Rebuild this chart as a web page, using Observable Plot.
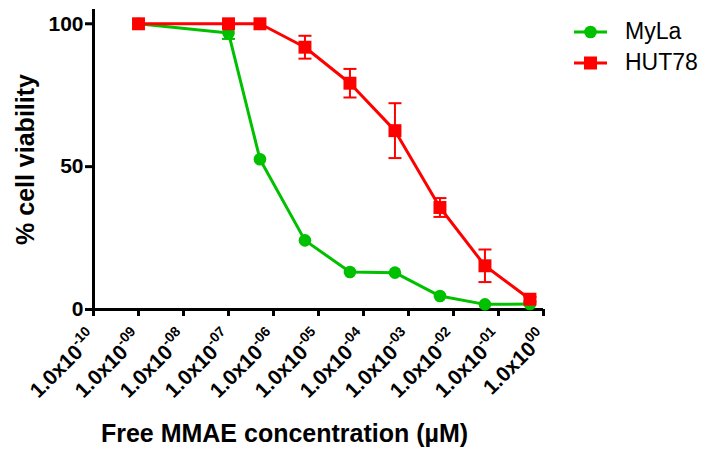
<!DOCTYPE html>
<html><head><meta charset="utf-8">
<script src="https://cdn.jsdelivr.net/npm/d3@7"></script>
<script src="https://cdn.jsdelivr.net/npm/@observablehq/plot@0.6"></script>
<style>
body{margin:0;background:#fff;}
#wrap{position:relative;width:703px;height:452px;}
#legend{position:absolute;left:573px;top:16px;font-family:"Liberation Sans",Arial,sans-serif;font-size:23px;color:#000;}
.item{display:flex;align-items:center;height:31px;}
.item svg{margin-right:17px;}
</style></head><body><div id="wrap"></div>
<script>
// ---- data ----
const concentrations = [1e-9, 1e-7, 5e-7, 5e-6, 5e-5, 5e-4, 5e-3, 5e-2, 5e-1];
const mylaViability  = [100, 96.8, 52.6, 24.2, 13.1, 12.9, 4.7, 1.8, 1.9];
const mylaSem        = [0, 2.1, 0, 0, 0, 0, 0, 0, 0];
const hut78Viability = [100, 100, 100, 91.8, 79.2, 62.6, 35.7, 15.3, 3.6];
const hut78Sem       = [0, 0, 0, 4.0, 5.0, 9.6, 3.3, 5.7, 0.8];
const seriesNames  = ["MyLa", "HUT78"];
const seriesColors = ["#00c000", "#ff0000"];
const xTicks = [1e-10, 1e-9, 1e-8, 1e-7, 1e-6, 1e-5, 1e-4, 1e-3, 1e-2, 1e-1, 1e0];
const xTickBase = "1.0x10";
const xTickExponents = ["-10", "-09", "-08", "-07", "-06", "-05", "-04", "-03", "-02", "-01", "00"];
const yTicks = [0, 50, 100];
const xDomain = [1e-10, 1];
const yDomain = [0, 105];
const xTitle = "Free MMAE concentration (µM)";
const yTitle = "% cell viability";

// ---- build rows ----
const rows = [];
concentrations.forEach((c, i) => {
  rows.push({series: "MyLa", conc: c, v: mylaViability[i], sem: mylaSem[i]});
});
concentrations.forEach((c, i) => {
  rows.push({series: "HUT78", conc: c, v: hut78Viability[i], sem: hut78Sem[i]});
});
const myla = rows.filter(d => d.series === "MyLa");
const hut = rows.filter(d => d.series === "HUT78");
const errs = rows.filter(d => d.sem > 0);

const capSymbol = {
  draw(context, size) {
    const r = Math.sqrt(size / Math.PI);
    context.moveTo(-r, 0);
    context.lineTo(r, 0);
  }
};

const font = '"Liberation Sans", Arial, sans-serif';

const chart = Plot.plot({
  width: 703,
  height: 452,
  marginLeft: 93,
  marginRight: 160,
  marginTop: 9,
  marginBottom: 143,
  style: {fontFamily: font, color: "#000", background: "#fff", overflow: "visible"},
  x: {type: "log", domain: xDomain},
  y: {domain: yDomain},
  color: {domain: seriesNames, range: seriesColors},
  marks: [
    Plot.ruleX([xDomain[0]], {y1: yDomain[0], y2: yDomain[1], stroke: "#000", strokeWidth: 3}),
    Plot.ruleY([yDomain[0]], {x1: xDomain[0], x2: xDomain[1], stroke: "#000", strokeWidth: 3}),
    Plot.axisY({ticks: yTicks, tickSize: 8, tickPadding: 2, strokeWidth: 3, fontSize: 21, fontWeight: "bold", label: null}),
    Plot.axisX({ticks: xTicks, tickSize: 7, tickPadding: 18, strokeWidth: 3, fontSize: 21, fontWeight: "bold",
      tickRotate: -45, label: null,
      tickFormat: d => xTickBase + "|" + xTickExponents[xTicks.findIndex(t => Math.abs(Math.log10(t) - Math.log10(d)) < 1e-6)]}),
    // error bars
    Plot.ruleX(errs, {x: "conc", y1: d => d.v - d.sem, y2: d => d.v + d.sem, stroke: "series", strokeWidth: 2}),
    Plot.dot(errs, {x: "conc", y: d => d.v + d.sem, symbol: capSymbol, r: 6.5, stroke: "series", fill: "none", strokeWidth: 2}),
    Plot.dot(errs, {x: "conc", y: d => d.v - d.sem, symbol: capSymbol, r: 6.5, stroke: "series", fill: "none", strokeWidth: 2}),
    // MyLa
    Plot.line(myla, {x: "conc", y: "v", stroke: "series", strokeWidth: 3}),
    Plot.dot(myla, {x: "conc", y: "v", symbol: "circle", r: 6.3, fill: "series", stroke: "none"}),
    // HUT78
    Plot.line(hut, {x: "conc", y: "v", stroke: "series", strokeWidth: 3}),
    Plot.dot(hut, {x: "conc", y: "v", symbol: "square", r: 7.3, fill: "series", stroke: "none"}),
    // titles
    Plot.text([xTitle], {frameAnchor: "bottom", textAnchor: "middle", dx: -34, dy: 124, fontSize: 25, fontWeight: "bold", lineAnchor: "middle"}),
    Plot.text([yTitle], {frameAnchor: "left", textAnchor: "middle", dx: -68, rotate: -90, fontSize: 25, fontWeight: "bold", lineAnchor: "middle"})
  ]
});

// superscript exponents in the x tick labels
d3.select(chart).selectAll('g[aria-label="x-axis tick label"] text').each(function() {
  const t = d3.select(this);
  const [base, exp] = t.text().split("|");
  t.text(null);
  t.append("tspan").text(base);
  t.append("tspan").attr("font-size", 14).attr("dy", "-0.7em").text(exp);
});

document.getElementById("wrap").appendChild(chart);

// legend
const legend = d3.select("#wrap").append("div").attr("id", "legend");
seriesNames.forEach((name, i) => {
  const item = legend.append("div").attr("class", "item");
  const s = item.append("svg").attr("width", 35).attr("height", 20);
  s.append("line").attr("x1", 1).attr("x2", 34).attr("y1", 10).attr("y2", 10)
    .attr("stroke", seriesColors[i]).attr("stroke-width", 3);
  if (i === 0) s.append("circle").attr("cx", 17.5).attr("cy", 10).attr("r", 6.3).attr("fill", seriesColors[i]);
  else s.append("rect").attr("x", 11).attr("y", 3.5).attr("width", 13).attr("height", 13).attr("fill", seriesColors[i]);
  item.append("span").text(name);
});
</script></body></html>
